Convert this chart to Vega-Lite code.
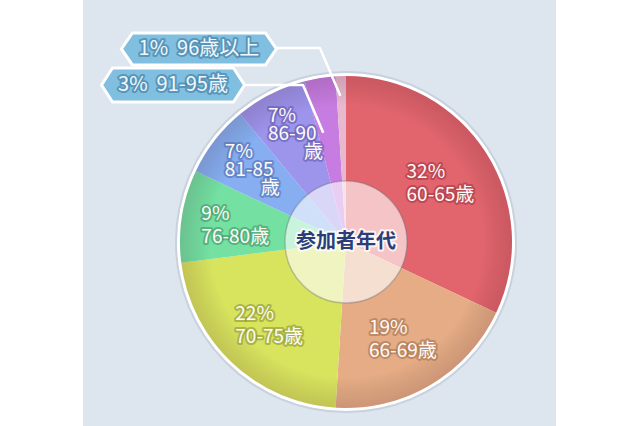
{
  "$schema": "https://vega.github.io/schema/vega-lite/v6.json",
  "width": 473,
  "height": 426,
  "autosize": {"type": "none"},
  "padding": {"left": 83, "right": 84, "top": 0, "bottom": 0},
  "background": "white",
  "config": {"view": {"fill": "#dde5ee", "stroke": null}},
  "datasets": {
    "slices": [
      {"age": "60-65歳", "pct": 32, "label": "32%\n60-65歳", "small": "", "suffix": ""},
      {"age": "66-69歳", "pct": 19, "label": "19%\n66-69歳", "small": "", "suffix": ""},
      {"age": "70-75歳", "pct": 22, "label": "22%\n70-75歳", "small": "", "suffix": ""},
      {"age": "76-80歳", "pct": 9, "label": "9%\n76-80歳", "small": "", "suffix": ""},
      {"age": "81-85歳", "pct": 7, "label": "", "small": "7%\n81-85", "suffix": "歳"},
      {"age": "86-90歳", "pct": 7, "label": "", "small": "7%\n86-90", "suffix": "歳"},
      {"age": "91-95歳", "pct": 3, "label": "", "small": "", "suffix": ""},
      {"age": "96歳以上", "pct": 1, "label": "", "small": "", "suffix": ""}
    ],
    "callouts": [
      {"id": "c96", "text": "1%\u00a0 96歳以上", "cx": -0.886, "cy": 1.163},
      {"id": "c91", "text": "3%\u00a0 91-95歳", "cx": -1.042, "cy": 0.946}
    ],
    "leaders": [
      {"line": "a", "step": 1, "lx": -0.416, "ly": 1.169},
      {"line": "a", "step": 2, "lx": -0.157, "ly": 1.169},
      {"line": "a", "step": 3, "lx": -0.036, "ly": 0.886},
      {"line": "b", "step": 1, "lx": -0.608, "ly": 0.946},
      {"line": "b", "step": 2, "lx": -0.259, "ly": 0.946},
      {"line": "b", "step": 3, "lx": -0.139, "ly": 0.663}
    ],
    "center": [{"title": "参加者年代"}]
  },
  "layer": [
    {
      "data": {"name": "center"},
      "mark": {"type": "arc", "theta": 0, "theta2": 6.2832, "outerRadius": 171, "fill": "#b9c5d2", "fillOpacity": 0.6},
      "encoding": {
        "x": {"datum": 0, "type": "quantitative", "scale": {"domain": [-1.5843, 1.2651], "nice": false, "zero": false}, "axis": null},
        "y": {"datum": 0, "type": "quantitative", "scale": {"domain": [-1.1084, 1.4578], "nice": false, "zero": false}, "axis": null}
      }
    },
    {
      "data": {"name": "center"},
      "mark": {"type": "arc", "theta": 0, "theta2": 6.2832, "outerRadius": 169, "fill": "#ffffff"},
      "encoding": {
        "x": {"datum": 0, "type": "quantitative", "scale": {"domain": [-1.5843, 1.2651], "nice": false, "zero": false}, "axis": null},
        "y": {"datum": 0, "type": "quantitative", "scale": {"domain": [-1.1084, 1.4578], "nice": false, "zero": false}, "axis": null}
      }
    },
    {
      "data": {"name": "slices"},
      "mark": {"type": "arc", "outerRadius": 166},
      "encoding": {
        "x": {"datum": 0, "type": "quantitative", "scale": {"domain": [-1.5843, 1.2651], "nice": false, "zero": false}, "axis": null},
        "y": {"datum": 0, "type": "quantitative", "scale": {"domain": [-1.1084, 1.4578], "nice": false, "zero": false}, "axis": null},
        "theta": {"field": "pct", "type": "quantitative", "stack": true},
        "order": {"field": "age", "type": "ordinal", "sort": "ascending"},
        "color": {
          "field": "age", "type": "nominal", "legend": null,
          "scale": {
            "domain": ["60-65歳", "66-69歳", "70-75歳", "76-80歳", "81-85歳", "86-90歳", "91-95歳", "96歳以上"],
            "range": ["#e2656d", "#e5ac85", "#d8e35e", "#74e0a2", "#86aef0", "#9d94ec", "#c67ce0", "#e8b8cf"]
          }
        }
      }
    },
    {
      "data": {"name": "center"},
      "mark": {
        "type": "arc", "theta": 0, "theta2": 6.2832, "outerRadius": 166,
        "fill": {
          "gradient": "radial", "x1": 0.5, "y1": 0.5, "x2": 0.5, "y2": 0.5, "r1": 0, "r2": 0.5,
          "stops": [
            {"offset": 0, "color": "rgba(255,255,255,0)"},
            {"offset": 0.82, "color": "rgba(0,0,0,0)"},
            {"offset": 1, "color": "rgba(60,10,30,0.14)"}
          ]
        }
      },
      "encoding": {
        "x": {"datum": 0, "type": "quantitative", "scale": {"domain": [-1.5843, 1.2651], "nice": false, "zero": false}, "axis": null},
        "y": {"datum": 0, "type": "quantitative", "scale": {"domain": [-1.1084, 1.4578], "nice": false, "zero": false}, "axis": null}
      }
    },
    {
      "data": {"name": "center"},
      "mark": {"type": "arc", "theta": 0, "theta2": 6.2832, "outerRadius": 61, "fill": "#ffffff", "fillOpacity": 0.62, "stroke": "#6a6a7a", "strokeOpacity": 0.35, "strokeWidth": 1.5},
      "encoding": {
        "x": {"datum": 0, "type": "quantitative", "scale": {"domain": [-1.5843, 1.2651], "nice": false, "zero": false}, "axis": null},
        "y": {"datum": 0, "type": "quantitative", "scale": {"domain": [-1.1084, 1.4578], "nice": false, "zero": false}, "axis": null}
      }
    },
    {
      "data": {"name": "slices"},
      "mark": {"type": "text", "radius": 112, "align": "left", "dx": -34, "dy": -10, "baseline": "middle", "lineBreak": "\n", "lineHeight": 23, "font": "Noto Sans CJK JP", "fontSize": 19, "fillOpacity": 0, "strokeWidth": 4, "strokeJoin": "round", "strokeOpacity": 0.5},
      "encoding": {
        "x": {"datum": 0, "type": "quantitative", "scale": {"domain": [-1.5843, 1.2651], "nice": false, "zero": false}, "axis": null},
        "y": {"datum": 0, "type": "quantitative", "scale": {"domain": [-1.1084, 1.4578], "nice": false, "zero": false}, "axis": null},
        "theta": {"field": "pct", "type": "quantitative", "stack": true},
        "order": {"field": "age", "type": "ordinal", "sort": "ascending"},
        "detail": {"field": "age", "type": "nominal"},
        "text": {"field": "label", "type": "nominal"},
        "stroke": {
          "field": "age", "type": "nominal", "legend": null,
          "scale": {
            "domain": ["60-65歳", "66-69歳", "70-75歳", "76-80歳", "81-85歳", "86-90歳", "91-95歳", "96歳以上"],
            "range": ["#9a3040", "#9a6a48", "#7a8a30", "#3a8a60", "#4a64a8", "#5a50a8", "#8040a0", "#a07090"]
          }
        }
      }
    },
    {
      "data": {"name": "slices"},
      "mark": {"type": "text", "radius": 112, "align": "left", "dx": -34, "dy": -10, "baseline": "middle", "lineBreak": "\n", "lineHeight": 23, "font": "Noto Sans CJK JP", "fontSize": 19, "fill": "#fffaf6"},
      "encoding": {
        "x": {"datum": 0, "type": "quantitative", "scale": {"domain": [-1.5843, 1.2651], "nice": false, "zero": false}, "axis": null},
        "y": {"datum": 0, "type": "quantitative", "scale": {"domain": [-1.1084, 1.4578], "nice": false, "zero": false}, "axis": null},
        "theta": {"field": "pct", "type": "quantitative", "stack": true},
        "order": {"field": "age", "type": "ordinal", "sort": "ascending"},
        "detail": {"field": "age", "type": "nominal"},
        "text": {"field": "label", "type": "nominal"}
      }
    },
    {
      "data": {"name": "slices"},
      "mark": {"type": "text", "radius": 128, "align": "left", "dx": -20, "dy": -12, "baseline": "middle", "lineBreak": "\n", "lineHeight": 18, "font": "Noto Sans CJK JP", "fontSize": 19, "fillOpacity": 0, "strokeWidth": 4, "strokeJoin": "round", "strokeOpacity": 0.5},
      "encoding": {
        "x": {"datum": 0, "type": "quantitative", "scale": {"domain": [-1.5843, 1.2651], "nice": false, "zero": false}, "axis": null},
        "y": {"datum": 0, "type": "quantitative", "scale": {"domain": [-1.1084, 1.4578], "nice": false, "zero": false}, "axis": null},
        "theta": {"field": "pct", "type": "quantitative", "stack": true},
        "order": {"field": "age", "type": "ordinal", "sort": "ascending"},
        "detail": {"field": "age", "type": "nominal"},
        "text": {"field": "small", "type": "nominal"},
        "stroke": {
          "field": "age", "type": "nominal", "legend": null,
          "scale": {
            "domain": ["60-65歳", "66-69歳", "70-75歳", "76-80歳", "81-85歳", "86-90歳", "91-95歳", "96歳以上"],
            "range": ["#9a3040", "#9a6a48", "#7a8a30", "#3a8a60", "#4a64a8", "#5a50a8", "#8040a0", "#a07090"]
          }
        }
      }
    },
    {
      "data": {"name": "slices"},
      "mark": {"type": "text", "radius": 128, "align": "left", "dx": -20, "dy": -12, "baseline": "middle", "lineBreak": "\n", "lineHeight": 18, "font": "Noto Sans CJK JP", "fontSize": 19, "fill": "#fffaf6"},
      "encoding": {
        "x": {"datum": 0, "type": "quantitative", "scale": {"domain": [-1.5843, 1.2651], "nice": false, "zero": false}, "axis": null},
        "y": {"datum": 0, "type": "quantitative", "scale": {"domain": [-1.1084, 1.4578], "nice": false, "zero": false}, "axis": null},
        "theta": {"field": "pct", "type": "quantitative", "stack": true},
        "order": {"field": "age", "type": "ordinal", "sort": "ascending"},
        "detail": {"field": "age", "type": "nominal"},
        "text": {"field": "small", "type": "nominal"}
      }
    },
    {
      "data": {"name": "slices"},
      "mark": {"type": "text", "radius": 128, "align": "left", "dx": 16, "dy": 24, "baseline": "middle", "font": "Noto Sans CJK JP", "fontSize": 19, "fillOpacity": 0, "strokeWidth": 4, "strokeJoin": "round", "strokeOpacity": 0.5},
      "encoding": {
        "x": {"datum": 0, "type": "quantitative", "scale": {"domain": [-1.5843, 1.2651], "nice": false, "zero": false}, "axis": null},
        "y": {"datum": 0, "type": "quantitative", "scale": {"domain": [-1.1084, 1.4578], "nice": false, "zero": false}, "axis": null},
        "theta": {"field": "pct", "type": "quantitative", "stack": true},
        "order": {"field": "age", "type": "ordinal", "sort": "ascending"},
        "detail": {"field": "age", "type": "nominal"},
        "text": {"field": "suffix", "type": "nominal"},
        "stroke": {
          "field": "age", "type": "nominal", "legend": null,
          "scale": {
            "domain": ["60-65歳", "66-69歳", "70-75歳", "76-80歳", "81-85歳", "86-90歳", "91-95歳", "96歳以上"],
            "range": ["#9a3040", "#9a6a48", "#7a8a30", "#3a8a60", "#4a64a8", "#5a50a8", "#8040a0", "#a07090"]
          }
        }
      }
    },
    {
      "data": {"name": "slices"},
      "mark": {"type": "text", "radius": 128, "align": "left", "dx": 16, "dy": 24, "baseline": "middle", "font": "Noto Sans CJK JP", "fontSize": 19, "fill": "#fffaf6"},
      "encoding": {
        "x": {"datum": 0, "type": "quantitative", "scale": {"domain": [-1.5843, 1.2651], "nice": false, "zero": false}, "axis": null},
        "y": {"datum": 0, "type": "quantitative", "scale": {"domain": [-1.1084, 1.4578], "nice": false, "zero": false}, "axis": null},
        "theta": {"field": "pct", "type": "quantitative", "stack": true},
        "order": {"field": "age", "type": "ordinal", "sort": "ascending"},
        "detail": {"field": "age", "type": "nominal"},
        "text": {"field": "suffix", "type": "nominal"}
      }
    },
    {
      "data": {"name": "center"},
      "mark": {"type": "text", "align": "center", "baseline": "middle", "font": "Noto Sans CJK JP", "fontSize": 20, "fontWeight": "bold", "fillOpacity": 0, "stroke": "#ffffff", "strokeWidth": 4, "strokeJoin": "round", "strokeOpacity": 0.8},
      "encoding": {
        "x": {"datum": 0, "type": "quantitative", "scale": {"domain": [-1.5843, 1.2651], "nice": false, "zero": false}, "axis": null},
        "y": {"datum": 0, "type": "quantitative", "scale": {"domain": [-1.1084, 1.4578], "nice": false, "zero": false}, "axis": null},
        "text": {"field": "title", "type": "nominal"}
      }
    },
    {
      "data": {"name": "center"},
      "mark": {"type": "text", "align": "center", "baseline": "middle", "font": "Noto Sans CJK JP", "fontSize": 20, "fontWeight": "bold", "fill": "#2c3d78"},
      "encoding": {
        "x": {"datum": 0, "type": "quantitative", "scale": {"domain": [-1.5843, 1.2651], "nice": false, "zero": false}, "axis": null},
        "y": {"datum": 0, "type": "quantitative", "scale": {"domain": [-1.1084, 1.4578], "nice": false, "zero": false}, "axis": null},
        "text": {"field": "title", "type": "nominal"}
      }
    },
    {
      "data": {"name": "leaders"},
      "mark": {"type": "line", "stroke": "#ffffff", "strokeWidth": 2.5, "strokeCap": "round", "strokeJoin": "round"},
      "encoding": {
        "x": {"field": "lx", "type": "quantitative", "scale": {"domain": [-1.5843, 1.2651], "nice": false, "zero": false}, "axis": null},
        "y": {"field": "ly", "type": "quantitative", "scale": {"domain": [-1.1084, 1.4578], "nice": false, "zero": false}, "axis": null},
        "detail": {"field": "line", "type": "nominal"},
        "order": {"field": "step", "type": "quantitative"}
      }
    },
    {
      "data": {"name": "callouts"},
      "transform": [{"filter": "datum.id === 'c96'"}],
      "mark": {"type": "point", "filled": true, "shape": "M-1,0L-0.858,-0.206L0.858,-0.206L1,0L0.858,0.206L-0.858,0.206Z", "size": 24025, "fill": "#80bfe0", "fillOpacity": 1, "stroke": "#ffffff", "strokeWidth": 3, "opacity": 1},
      "encoding": {
        "x": {"field": "cx", "type": "quantitative", "scale": {"domain": [-1.5843, 1.2651], "nice": false, "zero": false}, "axis": null},
        "y": {"field": "cy", "type": "quantitative", "scale": {"domain": [-1.1084, 1.4578], "nice": false, "zero": false}, "axis": null}
      }
    },
    {
      "data": {"name": "callouts"},
      "transform": [{"filter": "datum.id === 'c91'"}],
      "mark": {"type": "point", "filled": true, "shape": "M-1,0L-0.846,-0.238L0.846,-0.238L1,0L0.846,0.238L-0.846,0.238Z", "size": 20449, "fill": "#80bfe0", "fillOpacity": 1, "stroke": "#ffffff", "strokeWidth": 3, "opacity": 1},
      "encoding": {
        "x": {"field": "cx", "type": "quantitative", "scale": {"domain": [-1.5843, 1.2651], "nice": false, "zero": false}, "axis": null},
        "y": {"field": "cy", "type": "quantitative", "scale": {"domain": [-1.1084, 1.4578], "nice": false, "zero": false}, "axis": null}
      }
    },
    {
      "data": {"name": "callouts"},
      "mark": {"type": "text", "align": "center", "baseline": "middle", "font": "Noto Sans CJK JP", "fontSize": 20, "fillOpacity": 0, "stroke": "#3f7aa0", "strokeWidth": 4, "strokeJoin": "round", "strokeOpacity": 0.6},
      "encoding": {
        "x": {"field": "cx", "type": "quantitative", "scale": {"domain": [-1.5843, 1.2651], "nice": false, "zero": false}, "axis": null},
        "y": {"field": "cy", "type": "quantitative", "scale": {"domain": [-1.1084, 1.4578], "nice": false, "zero": false}, "axis": null},
        "text": {"field": "text", "type": "nominal"}
      }
    },
    {
      "data": {"name": "callouts"},
      "mark": {"type": "text", "align": "center", "baseline": "middle", "font": "Noto Sans CJK JP", "fontSize": 20, "fill": "#eef8fc"},
      "encoding": {
        "x": {"field": "cx", "type": "quantitative", "scale": {"domain": [-1.5843, 1.2651], "nice": false, "zero": false}, "axis": null},
        "y": {"field": "cy", "type": "quantitative", "scale": {"domain": [-1.1084, 1.4578], "nice": false, "zero": false}, "axis": null},
        "text": {"field": "text", "type": "nominal"}
      }
    }
  ]
}
